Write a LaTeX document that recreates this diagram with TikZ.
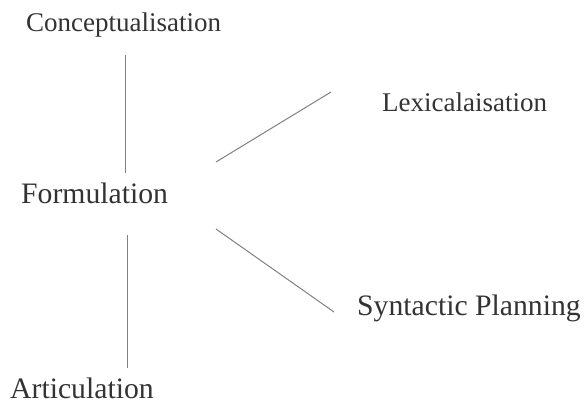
\documentclass[tikz,border=0pt]{standalone}
\usepackage{fontspec}
\setmainfont{Liberation Serif}
\begin{document}
\begin{tikzpicture}[x=1pt,y=-1pt,
  label/.style={anchor=base west,inner sep=0pt,text=black!80},
  small/.style={label,font=\fontsize{27}{30}\selectfont},
  big/.style={label,font=\fontsize{29.7}{33}\selectfont},
  link/.style={draw=black!50,line width=1pt}]
\useasboundingbox (0,0) rectangle (585,403);
\node[small] (con) at (26,31.5) {Conceptualisation};
\node[big]   (for) at (21,204) {Formulation};
\node[small] (lex) at (382,112) {Lexicalaisation};
\node[big]   (syn) at (357,315) {Syntactic Planning};
\node[big]   (art) at (10,398) {Articulation};
% connector end points
\coordinate (c1) at (125.5,55);   \coordinate (f1) at (125.5,173);
\coordinate (f2) at (127.5,235);  \coordinate (a1) at (127.5,368);
\coordinate (f3) at (216,162);    \coordinate (l1) at (331,92);
\coordinate (f4) at (216,229);    \coordinate (s1) at (334,312);
\draw[link] (c1) -- (f1);
\draw[link] (f2) -- (a1);
\draw[link] (f3) -- (l1);
\draw[link] (f4) -- (s1);
\end{tikzpicture}
\end{document}
